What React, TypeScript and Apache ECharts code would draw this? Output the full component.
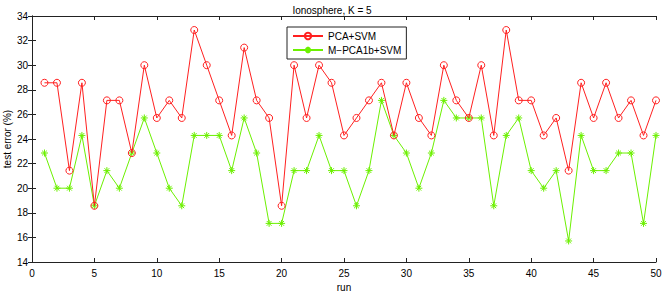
import React, { useEffect, useRef } from "react";
import * as echarts from "echarts";

const runs: number[] = Array.from({ length: 50 }, (_, i) => i + 1);

const pcaSvm: number[] = [
  28.57, 28.57, 21.43, 28.57, 18.57, 27.14, 27.14, 22.86, 30.0, 25.71,
  27.14, 25.71, 32.86, 30.0, 27.14, 24.29, 31.43, 27.14, 25.71, 18.57,
  30.0, 25.71, 30.0, 28.57, 24.29, 25.71, 27.14, 28.57, 24.29, 28.57,
  25.71, 24.29, 30.0, 27.14, 25.71, 30.0, 24.29, 32.86, 27.14, 27.14,
  24.29, 25.71, 21.43, 28.57, 25.71, 28.57, 25.71, 27.14, 24.29, 27.14,
];

const mPca1bSvm: number[] = [
  22.86, 20.0, 20.0, 24.29, 18.57, 21.43, 20.0, 22.86, 25.71, 22.86,
  20.0, 18.57, 24.29, 24.29, 24.29, 21.43, 25.71, 22.86, 17.14, 17.14,
  21.43, 21.43, 24.29, 21.43, 21.43, 18.57, 21.43, 27.14, 24.29, 22.86,
  20.0, 22.86, 27.14, 25.71, 25.71, 25.71, 18.57, 24.29, 25.71, 21.43,
  20.0, 21.43, 15.71, 24.29, 21.43, 21.43, 22.86, 22.86, 17.14, 24.29,
];

const seriesNames = ["PCA+SVM", "M\u2212PCA1b+SVM"];
const titleText = "Ionosphere, K = 5";
const xName = "run";
const yName = "test error (%)";

const FONT = "Liberation Sans, Arial, Helvetica, sans-serif";
const RED = "#ff2020";
const GREEN = "#6cf000";
const AXIS = "#222222";
const asterisk =
  "path://M0,5L10,5M5,0L5,10M1.6,1.6L8.4,8.4M1.6,8.4L8.4,1.6";

export default function App() {
  const ref = useRef<HTMLDivElement>(null);
  useEffect(() => {
    if (!ref.current) return;
    const chart = echarts.init(ref.current, undefined, { renderer: "svg" });
    const axisLine = { show: true, lineStyle: { color: AXIS, width: 1 } };
    const tick = { show: true, inside: true, length: 4, lineStyle: { color: AXIS } };
    const label = { color: "#000", fontFamily: FONT, fontSize: 10 };
    chart.setOption({
      animation: false,
      backgroundColor: "#fff",
      title: {
        text: titleText,
        left: "center",
        top: 0,
        textStyle: { fontFamily: FONT, fontSize: 10, fontWeight: "normal", color: "#000" },
      },
      grid: {
        left: 32,
        top: 16,
        right: 8,
        bottom: 33,
        containLabel: false,
        outerBoundsMode: "none",
      },
      legend: {
        orient: "vertical",
        left: 287,
        top: 27,
        itemWidth: 30,
        itemHeight: 8,
        itemGap: 4,
        padding: [4, 5, 4, 5],
        borderColor: AXIS,
        borderWidth: 1,
        backgroundColor: "#fff",
        textStyle: { fontFamily: FONT, fontSize: 10, color: "#000" },
        data: seriesNames,
      },
      xAxis: [
        {
          type: "value",
          min: 0,
          max: 50,
          interval: 5,
          name: xName,
          nameLocation: "middle",
          nameGap: 20,
          nameMoveOverlap: false,
          nameTextStyle: { fontFamily: FONT, fontSize: 10, color: "#000" },
          axisLine,
          axisTick: tick,
          axisLabel: { ...label, margin: 6 },
          splitLine: { show: false },
        },
        {
          type: "value",
          position: "top",
          min: 0,
          max: 50,
          interval: 5,
          axisLine,
          axisTick: tick,
          axisLabel: { show: false },
          splitLine: { show: false },
        },
      ],
      yAxis: [
        {
          type: "value",
          min: 14,
          max: 34,
          interval: 2,
          name: yName,
          nameLocation: "middle",
          nameGap: 20,
          nameMoveOverlap: false,
          nameTextStyle: { fontFamily: FONT, fontSize: 10, color: "#000" },
          axisLine,
          axisTick: tick,
          axisLabel: { ...label, margin: 4 },
          splitLine: { show: false },
        },
        {
          type: "value",
          position: "right",
          min: 14,
          max: 34,
          interval: 2,
          axisLine,
          axisTick: tick,
          axisLabel: { show: false },
          splitLine: { show: false },
        },
      ],
      series: [
        {
          name: seriesNames[0],
          type: "line",
          data: runs.map((r, i) => [r, pcaSvm[i]]),
          symbol: "circle",
          symbolSize: 7,
          showAllSymbol: true,
          lineStyle: { color: RED, width: 1 },
          itemStyle: { color: "transparent", borderColor: RED, borderWidth: 1 },
          emphasis: { disabled: true },
          z: 3,
        },
        {
          name: seriesNames[1],
          type: "line",
          data: runs.map((r, i) => [r, mPca1bSvm[i]]),
          symbol: asterisk,
          symbolSize: 7,
          showAllSymbol: true,
          lineStyle: { color: GREEN, width: 1 },
          itemStyle: { color: "transparent", borderColor: GREEN, borderWidth: 1 },
          emphasis: { disabled: true },
          z: 2,
        },
      ],
    });
    return () => chart.dispose();
  }, []);
  return <div ref={ref} style={{ width: 664, height: 295, position: "fixed", left: 0, top: 0 }} />;
}
